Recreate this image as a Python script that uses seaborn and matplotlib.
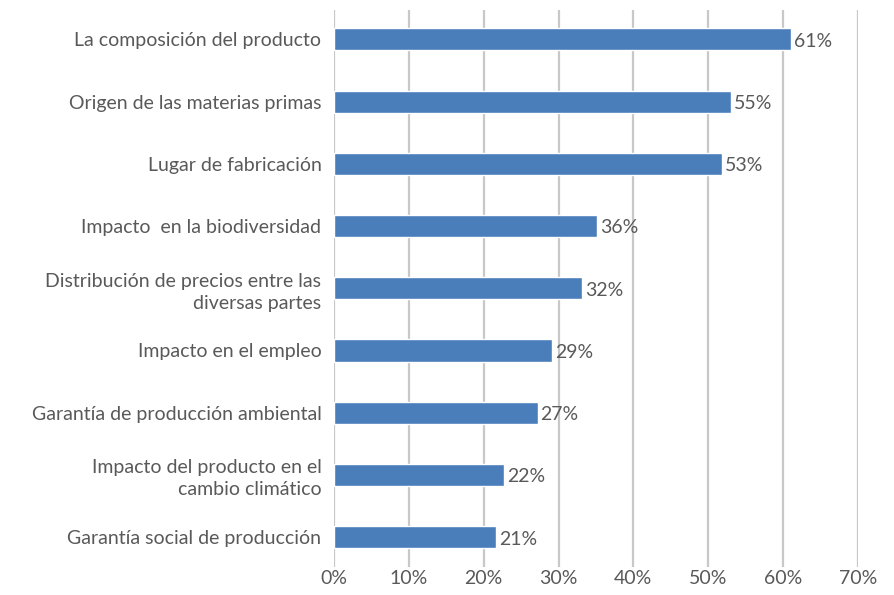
import numpy as np
import pandas as pd
import seaborn as sns
import matplotlib.pyplot as plt

categories = [
    'La composición del producto',
    'Origen de las materias primas',
    'Lugar de fabricación',
    'Impacto  en la biodiversidad',
    'Distribución de precios entre las\ndiversas partes',
    'Impacto en el empleo',
    'Garantía de producción ambiental',
    'Impacto del producto en el\ncambio climático',
    'Garantía social de producción',
]
# bar lengths as drawn in the picture (%)
bar_values = [61.0, 53.0, 51.8, 35.2, 33.1, 29.1, 27.2, 22.7, 21.6]
# data labels as printed next to the bars
value_labels = ['61%', '55%', '53%', '36%', '32%', '29%', '27%', '22%', '21%']
xticks = [0, 10, 20, 30, 40, 50, 60, 70]

df = pd.DataFrame({'item': categories, 'pct': bar_values})

sns.set_theme(style='white')
plt.rcParams['font.family'] = ['Lato', 'DejaVu Sans']

text_col = '#595959'
grid_col = '#C8C8C8'
bar_col = '#4A7EBB'

fig = plt.figure(figsize=(8.94, 5.95), dpi=100)
ax = fig.add_axes([0.3736, 0.047, 0.586, 0.936])

sns.barplot(data=df, x='pct', y='item', color=bar_col, width=0.355,
            saturation=1, ax=ax, zorder=3)

ax.set_xlim(0, 70)
ax.set_ylim(8.48, -0.47)
ax.set_xticks(xticks)
ax.set_xticklabels([f'{t}%' for t in xticks], fontsize=14, color=text_col)
ax.tick_params(axis='x', length=0, pad=2)
ax.tick_params(axis='y', length=0, pad=9, labelsize=14, labelcolor=text_col)
for lab in ax.get_yticklabels():
    lab.set_horizontalalignment('right')
    lab.set_multialignment('right')
    lab.set_linespacing(1.35)

ax.grid(axis='x', color=grid_col, linewidth=1.6, zorder=0)
ax.grid(axis='y', visible=False)
for s in ax.spines.values():
    s.set_visible(False)
ax.set_xlabel('')
ax.set_ylabel('')

for i, (v, lab) in enumerate(zip(bar_values, value_labels)):
    ax.text(v + 0.4, i + 0.03, lab, va='center', ha='left', fontsize=14,
            color=text_col, zorder=4)

fig.savefig('out.png', dpi=100)
